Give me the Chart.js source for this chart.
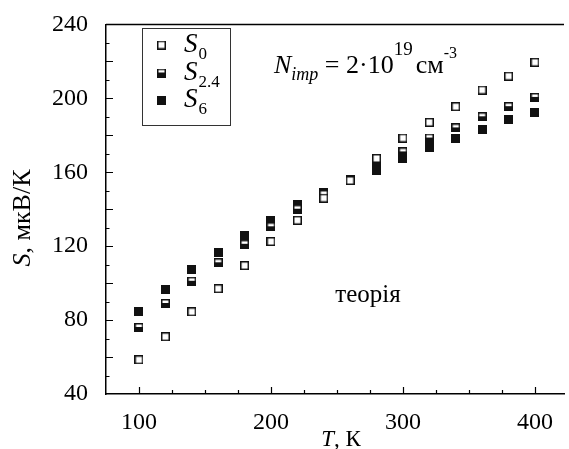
<!DOCTYPE html>
<html>
<head>
<meta charset="utf-8">
<script src="https://cdn.jsdelivr.net/npm/chart.js@4.4.1/dist/chart.umd.min.js"></script>
<style>
  html, body { margin: 0; padding: 0; background: #fff; }
  #wrap { width: 569px; height: 449px; }
</style>
</head>
<body>
<div id="wrap"><canvas id="myChart" width="569" height="449"></canvas></div>
<script>
// data
const temps = [100, 120, 140, 160, 180, 200, 220, 240, 260, 280, 300, 320, 340, 360, 380, 400];
const s0  = [58.5, 71, 84.5, 97, 109.5, 122.5, 134, 146, 155.5, 167.5, 178.5, 187, 195.5, 204.5, 212, 219.5];
const s24 = [76, 89, 101, 111, 121, 130.5, 140, 148, 155.5, 165, 171, 178.5, 184, 190, 195.5, 200.5];
const s6  = [84.5, 96.5, 107.5, 116.5, 125.5, 134, 142.5, 149, 156, 161, 167.5, 173.5, 178.5, 183, 188.5, 192.5];
const subscripts = ["0", "2.4", "6"];
const xTickLabels = [100, 200, 300, 400];
const yTickLabels = [40, 80, 120, 160, 200, 240];

const FONT = "'Liberation Serif', 'Times New Roman', serif";

// square markers: open, half filled, filled
function marker(kind) {
    const c = document.createElement("canvas");
    c.width = 9;
    c.height = 9;
    const g = c.getContext("2d");
    g.fillStyle = "#111";
    g.fillRect(0, 0, 9, 9);
    g.fillStyle = "#fff";
    if (kind === "open") g.fillRect(1.5, 1.5, 6, 6);
    if (kind === "half") g.fillRect(1.5, 1.5, 6, 2.5);
    return c;
}

const markers = [marker("open"), marker("half"), marker("full")];

function drawRuns(ctx, x, y, runs) {
    ctx.textBaseline = "alphabetic";
    ctx.textAlign = "left";
    runs.forEach(r => {
        ctx.font = r.f;
        x += r.dx || 0;
        ctx.fillText(r.t, x, y + (r.dy || 0));
        x += ctx.measureText(r.t).width;
    });
}

function runsWidth(ctx, runs) {
    let w = 0;
    runs.forEach(r => { ctx.font = r.f; w += ctx.measureText(r.t).width + (r.dx || 0); });
    return w;
}

const decor = {
    id: "decor",
    afterDraw(chart) {
        const ctx = chart.ctx;
        const a = chart.chartArea;
        const xs = chart.scales.x;
        const ys = chart.scales.y;
        ctx.save();
        ctx.strokeStyle = "#000";
        ctx.fillStyle = "#000";
        ctx.lineWidth = 1.5;

        // top frame line
        ctx.beginPath();
        ctx.moveTo(a.left, a.top);
        ctx.lineTo(a.right, a.top);
        ctx.stroke();

        // inward ticks
        ctx.lineWidth = 1.2;
        ctx.beginPath();
        xs.ticks.forEach(t => {
            const px = Math.round(xs.getPixelForValue(t.value)) + 0.5;
            if (px <= a.left + 1) return;
            const len = xTickLabels.includes(t.value) ? 7 : 4;
            ctx.moveTo(px, a.bottom);
            ctx.lineTo(px, a.bottom - len);
        });
        ys.ticks.forEach(t => {
            const py = Math.round(ys.getPixelForValue(t.value)) + 0.5;
            if (py >= a.bottom - 1 || py <= a.top + 1) return;
            const len = t.value % 20 === 0 ? 7 : 3.5;
            ctx.moveTo(a.left, py);
            ctx.lineTo(a.left + len, py);
        });
        ctx.stroke();

        // axis titles
        const xt = [
            { t: "T", f: "italic 23px " + FONT },
            { t: ", К", f: "23px " + FONT }
        ];
        drawRuns(ctx, 341 - runsWidth(ctx, xt) / 2, 446, xt);

        const yt = [
            { t: "S", f: "italic 26px " + FONT },
            { t: ", мкВ/К", f: "26px " + FONT }
        ];
        ctx.save();
        ctx.translate(30, 218);
        ctx.rotate(-Math.PI / 2);
        drawRuns(ctx, -runsWidth(ctx, yt) / 2, 0, yt);
        ctx.restore();

        // legend box
        ctx.lineWidth = 1;
        ctx.strokeStyle = "#333";
        ctx.strokeRect(142.5, 28.5, 88, 97);
        const rowY = [45, 73, 100];
        chart.data.datasets.forEach((ds, i) => {
            const img = ds.pointStyle;
            ctx.drawImage(img, 157, rowY[i] - 4.5);
            drawRuns(ctx, 184, rowY[i] + 7, [
                { t: "S", f: "italic 27px " + FONT },
                { t: subscripts[i], f: "17px " + FONT, dx: 1, dy: 7 }
            ]);
        });

        // annotations
        drawRuns(ctx, 274, 73, [
            { t: "N", f: "italic 26px " + FONT },
            { t: "imp", f: "italic 18px " + FONT, dy: 7 },
            { t: " = 2·10", f: "26px " + FONT },
            { t: "19", f: "19px " + FONT, dy: -18 },
            { t: "см", f: "26px " + FONT, dx: 3 },
            { t: "-3", f: "16px " + FONT, dy: -15 }
        ]);
        ctx.font = "25px " + FONT;
        ctx.textAlign = "center";
        ctx.fillText("теорія", 368, 302);

        ctx.restore();
    }
};

const ctx = document.getElementById("myChart").getContext("2d");

new Chart(ctx, {
    type: "scatter",
    data: {
        datasets: [
            { label: "S0", data: temps.map((t, i) => ({ x: t, y: s0[i] })), pointStyle: markers[0] },
            { label: "S2.4", data: temps.map((t, i) => ({ x: t, y: s24[i] })), pointStyle: markers[1] },
            { label: "S6", data: temps.map((t, i) => ({ x: t, y: s6[i] })), pointStyle: markers[2] }
        ]
    },
    options: {
        responsive: false,
        animation: false,
        events: [],
        layout: { padding: { top: 24, right: 0, left: 0, bottom: 0 } },
        plugins: {
            legend: { display: false },
            tooltip: { enabled: false }
        },
        scales: {
            x: {
                type: "linear",
                min: 75,
                max: 422,
                afterFit: s => { s.height = 55; },
                grid: { display: false },
                border: { display: true, color: "#000", width: 1.5 },
                ticks: {
                    stepSize: 25,
                    includeBounds: false,
                    autoSkip: false,
                    maxRotation: 0,
                    padding: 6,
                    color: "#000",
                    font: { family: FONT, size: 24 },
                    callback: v => xTickLabels.includes(v) ? String(v) : ""
                }
            },
            y: {
                type: "linear",
                min: 40,
                max: 240,
                afterFit: s => { s.width = 106; },
                grid: { display: false },
                border: { display: true, color: "#000", width: 1.5 },
                ticks: {
                    stepSize: 10,
                    autoSkip: false,
                    padding: 10,
                    color: "#000",
                    font: { family: FONT, size: 24 },
                    callback: v => yTickLabels.includes(v) ? String(v) : ""
                }
            }
        }
    },
    plugins: [decor]
});
</script>
</body>
</html>
